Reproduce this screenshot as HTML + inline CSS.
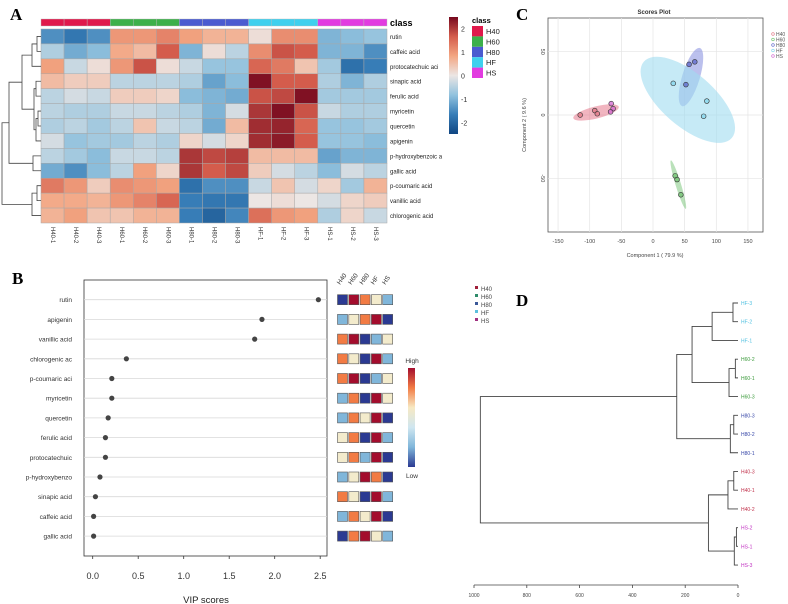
<!DOCTYPE html>
<html><head><meta charset="utf-8"><style>
body{margin:0;background:#fff;}
svg{display:block;font-family:"Liberation Sans",sans-serif;}
</style></head><body>
<svg id="fig" width="788" height="604" viewBox="0 0 788 604" xmlns="http://www.w3.org/2000/svg">
<text x="10" y="20" font-family="Liberation Serif" font-weight="bold" font-size="17">A</text>
<text x="12" y="284" font-family="Liberation Serif" font-weight="bold" font-size="17">B</text>
<text x="516" y="20" font-family="Liberation Serif" font-weight="bold" font-size="17">C</text>
<text x="516" y="306" font-family="Liberation Serif" font-weight="bold" font-size="17">D</text>
<g id="A"></g>
<g id="B"></g>
<g id="C"></g>
<g id="D"></g>
</svg>
<script>
const NS="http://www.w3.org/2000/svg";
function mk(p,t,a,txt){const e=document.createElementNS(NS,t);for(const k in a)e.setAttribute(k,a[k]);if(txt!==undefined)e.textContent=txt;p.appendChild(e);return e;}

// ===== Panel A data =====
const compounds=["rutin","caffeic acid","protocatechuic aci","sinapic acid","ferulic acid","myricetin","quercetin","apigenin","p-hydroxybenzoic a","gallic acid","p-coumaric acid","vanillic acid","chlorogenic acid"];
const samples=["H40-1","H40-2","H40-3","H60-1","H60-2","H60-3","H80-1","H80-2","H80-3","HF-1","HF-2","HF-3","HS-1","HS-2","HS-3"];
const classes=["H40","H60","H80","HF","HS"];
const classColors=["#e0194b","#3cb04a","#4a5bd0","#3fd0ee","#e23be0"];
const heat=[
[-1.3,-1.6,-1.3,0.9,0.9,1.1,0.8,0.6,0.6,0.1,1.0,1.0,-0.9,-0.8,-0.7],
[-0.5,-1.0,-0.8,0.7,0.5,1.5,-0.9,0.1,-0.4,1.0,1.6,1.5,-0.9,-0.9,-1.3],
[0.8,-0.3,0.1,0.9,1.6,0.1,-0.3,-0.7,-0.7,1.4,1.2,0.4,-0.6,-1.7,-1.5],
[0.5,0.3,0.3,-0.4,-0.4,-0.4,-0.5,-1.1,-0.8,2.3,1.5,1.5,-0.5,-0.9,-0.5],
[-0.4,-0.2,-0.3,0.3,0.3,0.2,-0.8,-0.9,-1.0,1.6,1.7,2.3,-0.6,-0.6,-0.6],
[-0.4,-0.5,-0.5,-0.3,-0.3,-0.4,-0.5,-0.9,-0.2,1.9,2.3,1.6,-0.3,-0.5,-0.5],
[-0.5,-0.4,-0.6,-0.4,0.4,-0.3,-0.4,-1.0,0.5,2.0,2.1,1.4,-0.7,-0.7,-0.6],
[-0.2,-0.7,-0.6,-0.6,-0.4,-0.5,0.2,-0.2,0.2,2.0,2.2,1.5,-0.7,-0.7,-0.8],
[-0.4,-0.6,-0.8,-0.3,-0.3,-0.4,1.9,1.7,1.8,0.5,0.5,0.5,-1.1,-0.9,-0.9],
[-1.0,-1.3,-0.8,-0.4,0.8,0.2,1.9,1.5,1.7,0.3,-0.2,-0.4,-0.8,-0.2,-0.4],
[1.2,0.9,0.3,1.0,0.9,0.8,-1.7,-1.3,-1.3,-0.3,0.4,-0.2,0.2,-0.6,0.6],
[0.7,0.7,0.6,0.9,1.1,1.4,-1.5,-1.6,-1.6,0.0,0.1,0.0,-0.2,0.2,0.3],
[0.6,0.8,0.4,0.4,0.6,0.6,-1.5,-1.9,-1.4,1.3,0.9,0.8,-0.5,0.2,-0.3]];
const heatTicks=[2,1,0,-1,-2];

const stops=[[-2.4,[16,70,130]],[-1.5,[55,125,183]],[-0.75,[145,194,222]],[0,[236,230,228]],[0.75,[243,166,130]],[1.5,[212,92,76]],[2.4,[118,8,30]]];
function hcol(v){if(v<=stops[0][0])return `rgb(${stops[0][1]})`;for(let i=1;i<stops.length;i++){if(v<=stops[i][0]){const a=stops[i-1],b=stops[i],t=(v-a[0])/(b[0]-a[0]);return `rgb(${a[1].map((c,j)=>Math.round(c+(b[1][j]-c)*t))})`;}}return `rgb(${stops[stops.length-1][1]})`;}

(function(){
const g=document.getElementById('A');
const x0=41,y0=29,cw=(387-41)/15,rh=(223-29)/13;
const cx=i=>x0+i*cw, ry=i=>y0+i*rh;
samples.forEach((s,j)=>{const r=mk(g,'rect',{x:cx(j),y:19,width:cw,height:7,fill:classColors[Math.floor(j/3)],stroke:'#bbb','stroke-width':0.4});
});
const ct=mk(g,'text',{x:390,y:26,'font-size':9,'font-weight':'bold'},'class');

heat.forEach((row,i)=>{row.forEach((v,j)=>{const r=mk(g,'rect',{x:cx(j),y:ry(i),width:cw,height:rh,fill:hcol(v),stroke:'#a8a8a8','stroke-width':0.5});
});
const t=mk(g,'text',{x:390,y:ry(i)+rh/2+2.5,'font-size':6,fill:'#222'},compounds[i]);
});
samples.forEach((s,j)=>{const x=cx(j)+cw/2,y=227;const t=mk(g,'text',{x:x,y:y,'font-size':6,fill:'#333',transform:`rotate(90 ${x} ${y})`,'dominant-baseline':'middle'},s);
});
const dg=mk(g,'g',{stroke:'#444','stroke-width':0.8,fill:'none'});

const yc=i=>ry(i)+rh/2;
function node(x,ya,yb,xa,xb){mk(dg,'path',{d:`M${xa} ${ya}H${x}V${yb}H${xb}`});return (ya+yb)/2;}
let a=node(37,yc(0),yc(1),41,41);let b=node(32,a,yc(2),37,41);
let c=node(36,yc(3),yc(4),41,41);let d=node(38,yc(5),yc(6),41,41);let e=node(36,d,yc(7),38,41);
let f=node(34,c,e,36,36);let h=node(22,b,f,32,34);
let p=node(33,yc(8),yc(9),41,41);let q=node(9,h,p,22,33);
let r1=node(37,yc(10),yc(11),41,41);let r2=node(32,r1,yc(12),37,41);
node(2,q,r2,9,32);
const lg=mk(g,'defs',{});const gr=mk(lg,'linearGradient',{id:'hg',x1:0,y1:0,x2:0,y2:1});
[2.4,1.5,0.75,0,-0.75,-1.5,-2.4].forEach((v,i)=>mk(gr,'stop',{offset:i/6,'stop-color':hcol(v)}));
const cb=mk(g,'rect',{x:449,y:17,width:9,height:117,fill:'url(#hg)'});

const ty=v=>75.5-v*23.5;
heatTicks.forEach(v=>{const t=mk(g,'text',{x:461,y:ty(v)+3,'font-size':7,fill:'#333'},String(v));
});
const lt=mk(g,'text',{x:472,y:23,'font-size':7.5,'font-weight':'bold'},'class');

classes.forEach((c,i)=>{const s=mk(g,'rect',{x:472,y:26+i*10.4,width:11,height:10.4,fill:classColors[i]});

const t=mk(g,'text',{x:486,y:34+i*10.4,'font-size':7.5,fill:'#222'},c);
});
})();

// ===== Panel B data =====
const vipNames=["rutin","apigenin","vanillic acid","chlorogenic ac","p-coumaric aci","myricetin","quercetin","ferulic acid","protocatechuic","p-hydroxybenzo","sinapic acid","caffeic acid","gallic acid"];
const vipScores=[2.48,1.86,1.78,0.37,0.21,0.21,0.17,0.14,0.14,0.08,0.03,0.01,0.01];
const vipTicks=[0,0.5,1,1.5,2,2.5];
const tileGroups=["H40","H60","H80","HF","HS"];
const tileLevels=[[1,5,4,3,2],[2,3,4,5,1],[4,5,1,2,3],[4,3,1,5,2],[4,5,1,2,3],[2,4,1,5,3],[2,4,3,5,1],[3,4,1,5,2],[3,4,2,5,1],[2,3,5,4,1],[4,3,1,5,2],[2,4,3,5,1],[1,4,5,3,2]];
const tileColors=["#2b3a92","#80b6da","#f3ebcc","#f27b44","#a30d2d"];
(function(){
const g=document.getElementById('B');
const X=v=>92.7+v*91, Y=i=>299.7+i*19.7;
const fr=mk(g,'rect',{x:84,y:280,width:243,height:276,fill:'none',stroke:'#333','stroke-width':0.8});

vipNames.forEach((n,i)=>{const l=mk(g,'line',{x1:84,x2:327,y1:Y(i),y2:Y(i),stroke:'#d8d8d8','stroke-width':0.8});

const t=mk(g,'text',{x:72,y:Y(i)+2.5,'font-size':6.5,'text-anchor':'end',fill:'#333'},n);

const c=mk(g,'circle',{cx:X(vipScores[i]),cy:Y(i),r:2.6,fill:'#444'});

tileLevels[i].forEach((lv,j)=>{const r=mk(g,'rect',{x:337.5+j*11.3,y:Y(i)-5,width:10,height:10,fill:tileColors[lv-1],stroke:'#555','stroke-width':0.6});
});});
vipTicks.forEach(v=>{const l=mk(g,'line',{x1:X(v),x2:X(v),y1:556,y2:559,stroke:'#333','stroke-width':0.8});

const t=mk(g,'text',{x:X(v),y:579,'font-size':9,'text-anchor':'middle',fill:'#333'},v.toFixed(1));
});
const xt=mk(g,'text',{x:206,y:603,'font-size':9.5,'text-anchor':'middle',fill:'#222'},'VIP scores');

tileGroups.forEach((s,j)=>{const x=340+j*11.3,y=285;const t=mk(g,'text',{x:x,y:y,'font-size':6.5,fill:'#333',transform:`rotate(-55 ${x} ${y})`},s);
});
const df=mk(g,'defs',{});const gr=mk(df,'linearGradient',{id:'vg',x1:0,y1:0,x2:0,y2:1});
["#a30d2d","#f27b44","#f7e9c3","#cfe6f0","#80b6da","#2b3a92"].forEach((c,i)=>mk(gr,'stop',{offset:i/5,'stop-color':c}));
const cb=mk(g,'rect',{x:408,y:368,width:7,height:99,fill:'url(#vg)'});

const h=mk(g,'text',{x:412,y:363,'font-size':6.5,'text-anchor':'middle',fill:'#333'},'High');

const lo=mk(g,'text',{x:412,y:478,'font-size':6.5,'text-anchor':'middle',fill:'#333'},'Low');

})();

// ===== Panel C data =====
const pcaGroups=["H40","H60","H80","HF","HS"];
const pcaColors=["#e07080","#6cc06c","#5560c8","#7fd4ec","#d060d0"];
const pcaFill=["rgba(230,120,140,0.55)","rgba(130,200,130,0.55)","rgba(120,130,220,0.5)","rgba(160,220,240,0.6)","rgba(220,130,220,0.5)"];
const pc1=[[-115,-92,-88],[35,38,44],[57,66,52],[32,85,80],[-66,-63,-67]];
const pc2=[[0,3.5,1],[-48,-51,-63],[40,42,24],[25,11,-1],[9,5,2.5]];
const ellCx=[-90,40,60,55,-66], ellCy=[2,-55,30,12,5], ellA=[37,40,48,92,0], ellB=[5.5,2.5,8,24,0], ellAng=[-14,73,-73,41,0];
const pcXTicks=[-150,-100,-50,0,50,100,150], pcYTicks=[50,0,-50];
(function(){
const g=document.getElementById('C');
const X=v=>653+v*0.633, Y=v=>115-v*1.266;
const fr=mk(g,'rect',{x:548,y:18,width:215,height:214,fill:'#fff',stroke:'#555','stroke-width':0.8});

pcXTicks.forEach(v=>{const l=mk(g,'line',{x1:X(v),x2:X(v),y1:18,y2:232,stroke:'#e4e4e4','stroke-width':0.7});

const t=mk(g,'text',{x:X(v),y:243,'font-size':5.5,'text-anchor':'middle',fill:'#444'},String(v));
});
pcYTicks.forEach(v=>{const l=mk(g,'line',{x1:548,x2:763,y1:Y(v),y2:Y(v),stroke:'#e4e4e4','stroke-width':0.7});

const t=mk(g,'text',{x:541,y:Y(v),'font-size':5.5,'text-anchor':'middle',fill:'#444',transform:`rotate(90 541 ${Y(v)})`},String(v));
});
pcaGroups.forEach((n,i)=>{if(ellA[i]>0){const e=mk(g,'ellipse',{cx:X(ellCx[i]),cy:Y(ellCy[i]),rx:ellA[i]*0.633,ry:ellB[i]*1.1,fill:pcaFill[i],transform:`rotate(${ellAng[i]} ${X(ellCx[i])} ${Y(ellCy[i])})`});
}});
pcaGroups.forEach((n,i)=>{pc1[i].forEach((v,k)=>{const c=mk(g,'circle',{cx:X(v),cy:Y(pc2[i][k]),r:2.4,fill:pcaColors[i],'fill-opacity':0.7,stroke:'#333','stroke-width':0.6});
});
const lc=mk(g,'circle',{cx:773,cy:34+i*5.5,r:1.3,fill:'none',stroke:pcaColors[i],'stroke-width':0.6});

const lt=mk(g,'text',{x:776,y:36+i*5.5,'font-size':5,fill:'#555'},n);
});
const ti=mk(g,'text',{x:654,y:14,'font-size':6,'font-weight':'bold','text-anchor':'middle',fill:'#333'},'Scores Plot');

const xt=mk(g,'text',{x:655,y:257,'font-size':5.5,'text-anchor':'middle',fill:'#444'},'Component 1 ( 79.9 %)');

const yt=mk(g,'text',{x:526,y:125,'font-size':5.5,'text-anchor':'middle',fill:'#444',transform:'rotate(-90 526 125)'},'Component 2 ( 9.6 %)');

})();

// ===== Panel D data =====
const leafNames=["HF-3","HF-2","HF-1","H60-2","H60-1","H60-3","H80-3","H80-2","H80-1","H40-3","H40-1","H40-2","HS-2","HS-1","HS-3"];
const leafGroup=[3,3,3,1,1,1,2,2,2,0,0,0,4,4,4];
const leafColors=["#c0304a","#3a9a3a","#3848a8","#50c0e0","#c030c0"];
const legendColors=["#a0203a","#2e8b6a","#3b5998","#5bc0de","#a03080"];
const merges=[[0,1,19],[-1,2,98],[3,4,10],[-3,5,34],[-2,-4,174],[6,7,16],[-6,8,29],[-5,-7,232],[9,10,16],[-9,11,38],[12,13,6],[-11,14,14],[-10,-12,112],[-8,-13,976]];
const dTicks=[1000,800,600,400,200,0];
(function(){
const g=document.getElementById('D');
const X=h=>738-h*0.264, Y=i=>303+i*18.72;
const pos=[];
function get(ref){if(ref>=0)return {x:X(0),y:Y(ref)};return pos[-ref-1];}
merges.forEach((m,k)=>{const a=get(m[0]),b=get(m[1]),x=X(m[2]);
const p=mk(g,'path',{d:`M${a.x} ${a.y}H${x}V${b.y}H${b.x}`,fill:'none',stroke:'#444','stroke-width':0.9});

pos.push({x:x,y:(a.y+b.y)/2});});
leafNames.forEach((n,i)=>{const t=mk(g,'text',{x:741,y:Y(i)+2,'font-size':5,fill:leafColors[leafGroup[i]]},n);
});
const ax=mk(g,'line',{x1:X(1000),x2:X(0),y1:585,y2:585,stroke:'#444','stroke-width':0.8});

dTicks.forEach(v=>{const l=mk(g,'line',{x1:X(v),x2:X(v),y1:585,y2:588,stroke:'#444','stroke-width':0.8});

const t=mk(g,'text',{x:X(v),y:597,'font-size':5,'text-anchor':'middle',fill:'#444'},String(v));
});
["H40","H60","H80","HF","HS"].forEach((n,i)=>{const r=mk(g,'rect',{x:475,y:288+i*8-2,width:3,height:3,fill:legendColors[i]});

const t=mk(g,'text',{x:481,y:291+i*8,'font-size':6,fill:'#444'},n);
});
})();
</script>
</body></html>
